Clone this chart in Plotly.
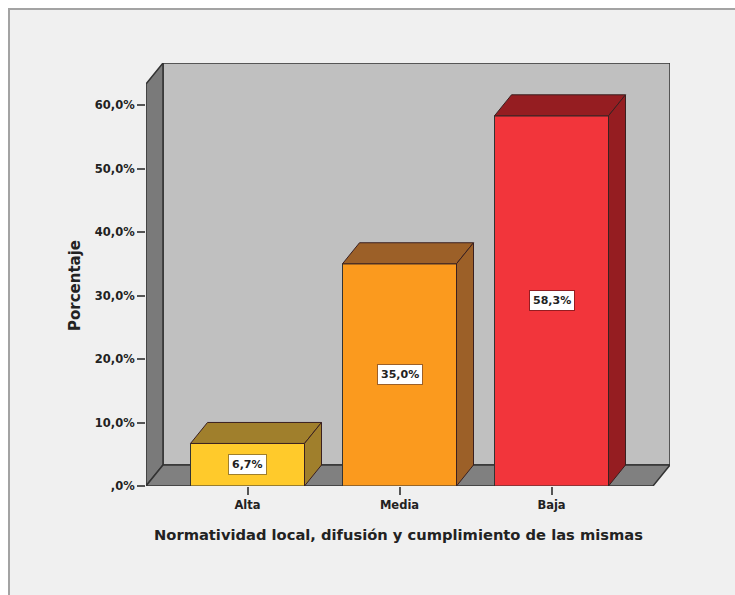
import plotly.graph_objects as go

categories = ["Alta", "Media", "Baja"]
values = [6.7, 35.0, 58.3]
value_labels = ["6,7%", "35,0%", "58,3%"]
front_colors = ["#ffca2b", "#fb9a1e", "#f2353b"]
dark_colors = ["#a07f2c", "#9c6028", "#951d21"]
y_ticks = [0, 10, 20, 30, 40, 50, 60]
y_tick_labels = [",0%", "10,0%", "20,0%", "30,0%", "40,0%", "50,0%", "60,0%"]
x_title = "Normatividad local, difusión y cumplimiento de las mismas"
y_title = "Porcentaje"

FONT = "DejaVu Sans"
W, H = 735, 595
L, R, T, B = 146, 65, 63, 109
PW, PH = W - L - R, H - T - B
PXX = 152.0
PXY = 6.35
BAR_W = 114 / PXX
DX = 17 / PXX
DY = 21 / PXY
X0 = (146 - 247.5) / PXX
X1 = (670 - 247.5) / PXX
Y1 = PH / PXY
LINE = "#333333"


def poly(xs, ys, fill):
    path = "M" + " L".join(f"{x},{y}" for x, y in zip(xs, ys)) + " Z"
    return dict(type="path", path=path, xref="x", yref="y", fillcolor=fill,
                line=dict(color=LINE, width=1.5), layer="below")


shapes = [
    dict(type="rect", xref="paper", yref="paper",
         x0=(9 - L) / PW, x1=(W + 20 - L) / PW,
         y0=-(H + 20 - (H - B)) / PH, y1=((H - B) - 9) / PH,
         fillcolor="#f0f0f0", line=dict(color="#a3a3a3", width=2), layer="below"),
    poly([X0 + DX, X1, X1, X0 + DX], [DY, DY, Y1, Y1], "#c0c0c0"),
    poly([X0, X0 + DX, X0 + DX, X0], [0, DY, Y1, Y1 - DY], "#7a7a7a"),
    poly([X0, X1 - DX, X1, X0 + DX], [0, 0, DY, DY], "#808080"),
]

fig = go.Figure()
fig.add_trace(go.Bar(
    x=list(range(len(categories))), y=values, width=BAR_W,
    marker=dict(color=front_colors, line=dict(color=LINE, width=1)),
    showlegend=False, hoverinfo="skip"))

annotations = []
for i, v in enumerate(values):
    a, b = i - BAR_W / 2, i + BAR_W / 2
    for xs, ys in (
        ([a, b, b + DX, a + DX, a], [v, v, v + DY, v + DY, v]),
        ([b, b + DX, b + DX, b, b], [0, DY, v + DY, v, 0]),
    ):
        fig.add_trace(go.Scatter(
            x=xs, y=ys, mode="lines", fill="toself", fillcolor=dark_colors[i],
            line=dict(color="#3a2020", width=1), showlegend=False, hoverinfo="skip"))
    annotations.append(dict(
        x=i, y=v / 2, text=value_labels[i], showarrow=False,
        font=dict(family=FONT, size=11, color="#222222", weight="bold"),
        bgcolor="#ffffff", bordercolor=dark_colors[i], borderwidth=1, borderpad=3))

annotations.append(dict(
    xref="paper", yref="paper", x=(398 - L) / PW, y=(486 - 534) / PH,
    text=x_title, showarrow=False, xanchor="center", yanchor="middle",
    font=dict(family=FONT, size=14.7, color="#222222", weight="bold")))
annotations.append(dict(
    xref="paper", yref="paper", x=(75 - L) / PW, y=(486 - 286) / PH,
    text=y_title, showarrow=False, textangle=-90, xanchor="center", yanchor="middle",
    font=dict(family=FONT, size=15, color="#222222", weight="bold")))

tick_font = dict(family=FONT, size=11.5, weight="bold", color="#222222")

fig.update_layout(
    width=W, height=H, margin=dict(l=L, r=R, t=T, b=B, pad=0),
    paper_bgcolor="#ffffff", plot_bgcolor="rgba(0,0,0,0)",
    shapes=shapes, annotations=annotations, showlegend=False,
    font=dict(family=FONT, color="#222222"),
    xaxis=dict(
        range=[X0, X1], tickmode="array", tickvals=list(range(len(categories))),
        ticktext=categories, ticks="outside", ticklen=8, tickwidth=2, tickcolor="#555555",
        tickfont=tick_font, showgrid=False, zeroline=False, showline=False),
    yaxis=dict(
        range=[0, Y1], tickmode="array", tickvals=y_ticks, ticktext=y_tick_labels,
        ticks="outside", ticklen=8, tickwidth=2, tickcolor="#555555",
        tickfont=tick_font, showgrid=False, zeroline=False, showline=False),
)

fig.write_html("out.html", config={"displayModeBar": False},
               post_script="document.body.style.margin='0';document.body.style.overflow='hidden';")
